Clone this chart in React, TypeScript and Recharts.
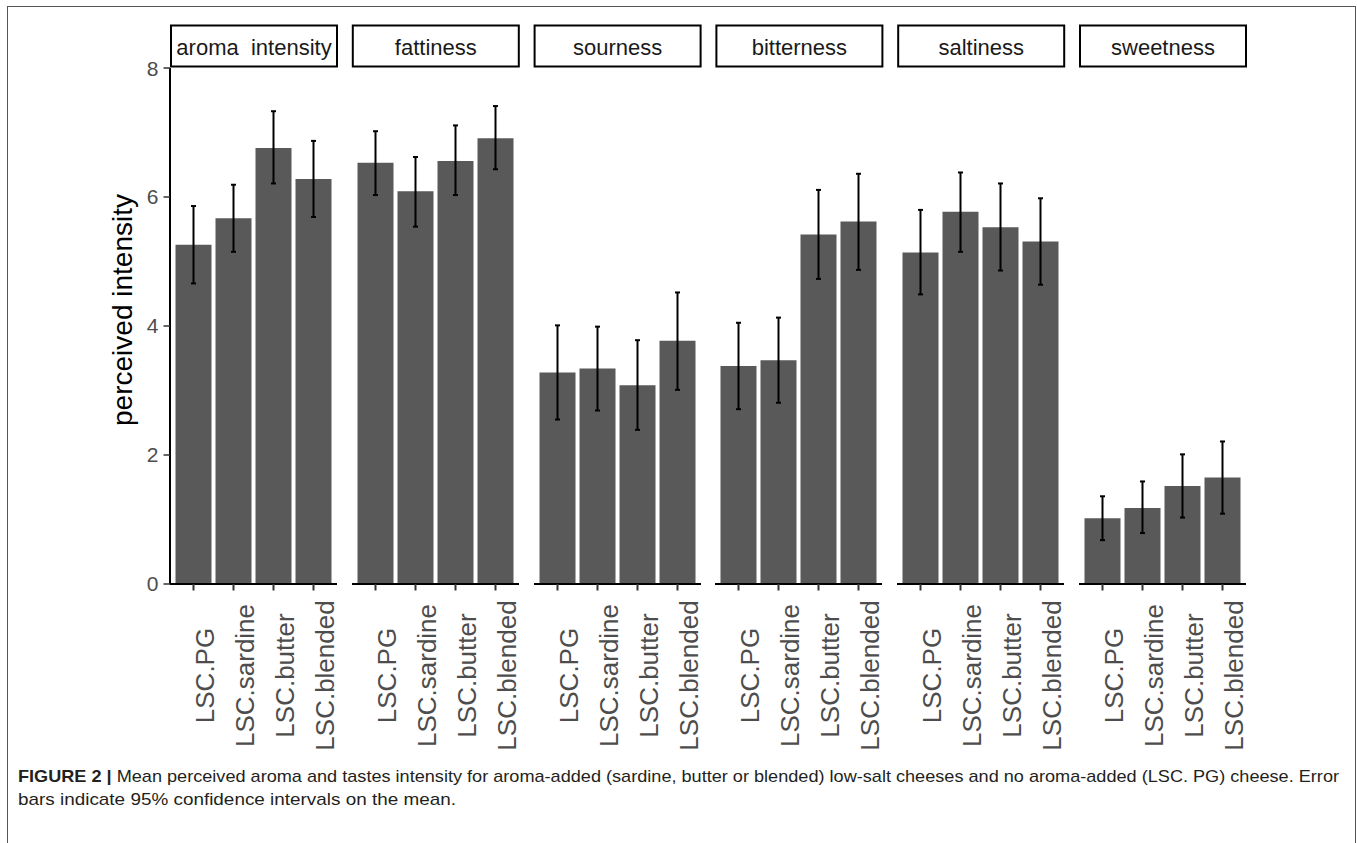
import React from 'react';
import { BarChart, Bar, XAxis, YAxis, ErrorBar } from 'recharts';

const categories = ['LSC.PG', 'LSC.sardine', 'LSC.butter', 'LSC.blended'];
const facetLabels = ['aroma  intensity', 'fattiness', 'sourness', 'bitterness', 'saltiness', 'sweetness'];
const yTicks = [0, 2, 4, 6, 8];
const yAxisTitle = 'perceived intensity';

const aromaMean = [5.26, 5.67, 6.76, 6.28];
const aromaLow = [4.66, 5.15, 6.21, 5.69];
const aromaHigh = [5.86, 6.19, 7.33, 6.87];

const fattinessMean = [6.53, 6.09, 6.56, 6.91];
const fattinessLow = [6.03, 5.54, 6.03, 6.43];
const fattinessHigh = [7.02, 6.62, 7.11, 7.41];

const sournessMean = [3.28, 3.34, 3.08, 3.77];
const sournessLow = [2.55, 2.69, 2.39, 3.01];
const sournessHigh = [4.01, 3.99, 3.78, 4.52];

const bitternessMean = [3.38, 3.47, 5.42, 5.62];
const bitternessLow = [2.71, 2.81, 4.73, 4.87];
const bitternessHigh = [4.05, 4.13, 6.11, 6.36];

const saltinessMean = [5.14, 5.77, 5.53, 5.31];
const saltinessLow = [4.49, 5.15, 4.86, 4.64];
const saltinessHigh = [5.8, 6.38, 6.21, 5.98];

const sweetnessMean = [1.02, 1.18, 1.52, 1.65];
const sweetnessLow = [0.68, 0.79, 1.03, 1.09];
const sweetnessHigh = [1.36, 1.59, 2.01, 2.21];

const facetMeans = [aromaMean, fattinessMean, sournessMean, bitternessMean, saltinessMean, sweetnessMean];
const facetLows = [aromaLow, fattinessLow, sournessLow, bitternessLow, saltinessLow, sweetnessLow];
const facetHighs = [aromaHigh, fattinessHigh, sournessHigh, bitternessHigh, saltinessHigh, sweetnessHigh];

const captionBold = 'FIGURE 2 |';
const captionLine1 = ' Mean perceived aroma and tastes intensity for aroma-added (sardine, butter or blended) low-salt cheeses and no aroma-added (LSC. PG) cheese. Error';
const captionLine2 = 'bars indicate 95% confidence intervals on the mean.';

// layout
const PLOT_TOP = 67.5;
const PLOT_H = 516;
const PANEL_W = 167;
const PANEL_STEP = 181.8;
const FIRST_LEFT = 170;
const Y_AXIS_W = 70;
const MARGIN_TOP = 12;
const XAXIS_H = 185;
const FONT = "'Liberation Sans', Arial, Helvetica, sans-serif";
const CAPTION_FONT = "'Liberation Sans Narrow', 'Arial Narrow', 'Liberation Sans', sans-serif";

const XTick = (props: any) => {
  const { x, y, payload } = props;
  return (
    <text
      transform={`translate(${x + 20},${y + 83}) rotate(-90)`}
      textAnchor="middle"
      fontSize={26}
      fill="#4d4d4d"
      fontFamily={FONT}
    >
      {payload.value}
    </text>
  );
};

const renderYTitle = (props: any) => {
  const vb = props.viewBox || { x: 0, y: 0, width: 0, height: 0 };
  const cx = vb.x + 32;
  const cy = vb.y + vb.height / 2 - 16;
  return (
    <text
      transform={`translate(${cx},${cy}) rotate(-90)`}
      textAnchor="middle"
      fontSize={28}
      fill="#000"
      fontFamily={FONT}
    >
      {yAxisTitle}
    </text>
  );
};

function Panel({ index }: { index: number }) {
  const data = categories.map((c, j) => ({
    cat: c,
    mean: facetMeans[index][j],
    err: [facetMeans[index][j] - facetLows[index][j], facetHighs[index][j] - facetMeans[index][j]],
  }));
  const isFirst = index === 0;
  const left = FIRST_LEFT + index * PANEL_STEP - (isFirst ? Y_AXIS_W : 0);
  const width = PANEL_W + (isFirst ? Y_AXIS_W : 0) + 2;
  return (
    <div style={{ position: 'absolute', left, top: PLOT_TOP - MARGIN_TOP }}>
      <BarChart
        width={width}
        height={MARGIN_TOP + PLOT_H + XAXIS_H}
        data={data}
        margin={{ top: MARGIN_TOP, right: 2, bottom: 0, left: 0 }}
        barCategoryGap="5%"
      >
        <XAxis
          dataKey="cat"
          type="category"
          height={XAXIS_H}
          padding={{ left: 3.5, right: 3.5 }}
          axisLine={{ stroke: '#000', strokeWidth: 2 }}
          tickLine={{ stroke: '#333', strokeWidth: 2 }}
          tickSize={6.5}
          tick={<XTick />}
          interval={0}
        />
        <YAxis
          type="number"
          domain={[0, 8]}
          ticks={yTicks}
          hide={!isFirst}
          width={isFirst ? Y_AXIS_W : 0}
          axisLine={{ stroke: '#000', strokeWidth: 2 }}
          tickLine={{ stroke: '#333', strokeWidth: 1.5 }}
          tickSize={6.5}
          tickMargin={5}
          tick={{ fill: '#4d4d4d', fontSize: 21, fontFamily: FONT }}
          label={isFirst ? { content: renderYTitle } : undefined}
        />
        <Bar dataKey="mean" fill="#595959" isAnimationActive={false}>
          <ErrorBar dataKey="err" width={2.5} stroke="#000" strokeWidth={2} isAnimationActive={false} />
        </Bar>
      </BarChart>
    </div>
  );
}

export default function App() {
  return (
    <div
      style={{
        position: 'absolute',
        left: 0,
        top: 0,
        width: 1357,
        height: 843,
        overflow: 'hidden',
        background: '#fff',
        fontFamily: FONT,
      }}
    >
      <div
        style={{
          position: 'absolute',
          left: 7,
          top: 6,
          width: 1349,
          height: 837,
          boxSizing: 'border-box',
          borderLeft: '1.5px solid #555',
          borderTop: '1.5px solid #555',
          borderRight: '1.5px solid #555',
        }}
      />
      {facetLabels.map((_, i) => (
        <Panel key={i} index={i} />
      ))}
      <svg style={{ position: 'absolute', left: 0, top: 0 }} width={1357} height={80}>
        {facetLabels.map((lab, i) => {
          const x0 = FIRST_LEFT + i * PANEL_STEP;
          return (
            <g key={lab}>
              <rect x={x0 + 1} y={25.5} width={PANEL_W - 1} height={41} fill="#fff" stroke="#000" strokeWidth={2} />
              <text
                x={x0 + PANEL_W / 2 + 0.5}
                y={54.5}
                textAnchor="middle"
                fontSize={22}
                fill="#1a1a1a"
                fontFamily={FONT}
                style={{ whiteSpace: 'pre' }}
              >
                {lab}
              </text>
            </g>
          );
        })}
      </svg>
      <svg style={{ position: 'absolute', left: 0, top: 740 }} width={1357} height={103}>
        <text
          x={18}
          y={42}
          fontSize={17}
          fill="#231f20"
          fontFamily={CAPTION_FONT}
          textLength={1321}
          lengthAdjust="spacingAndGlyphs"
        >
          <tspan fontWeight="bold">{captionBold}</tspan>
          <tspan>{captionLine1}</tspan>
        </text>
        <text
          x={18}
          y={65}
          fontSize={17}
          fill="#231f20"
          fontFamily={CAPTION_FONT}
          textLength={438}
          lengthAdjust="spacingAndGlyphs"
        >
          {captionLine2}
        </text>
      </svg>
    </div>
  );
}
